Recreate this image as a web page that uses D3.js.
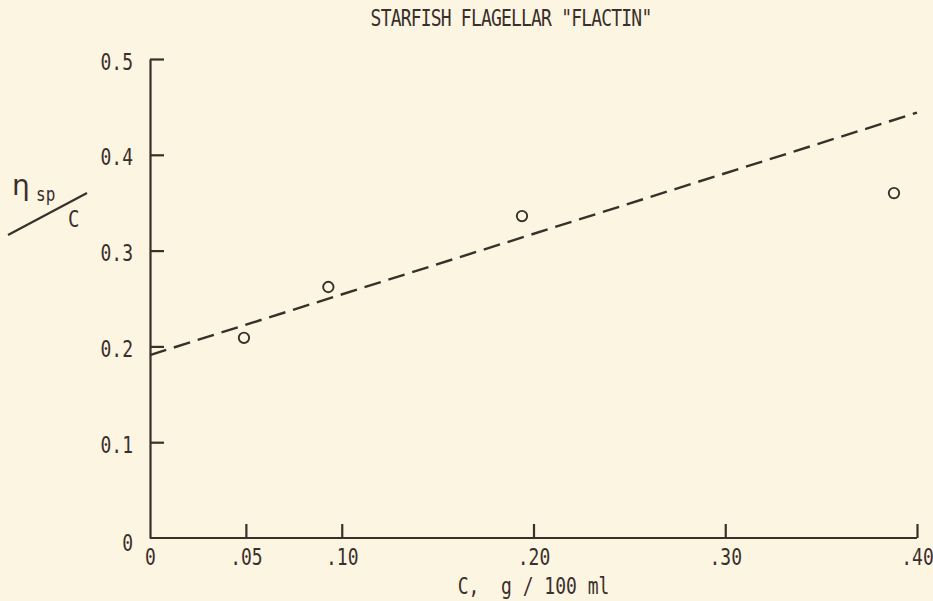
<!DOCTYPE html>
<html>
  <head>
    <meta charset="utf-8">
    <title>Starfish flagellar flactin</title>
    <style>
      body { margin: 0; background: #fcf5e2; }
      svg { display: block; }
      text {
        font-family: "DejaVu Sans Mono", monospace;
        fill: #3a2f2b;
      }
      .axis path, .axis line {
        fill: none;
        stroke: #3a2f2b;
        stroke-width: 2.2;
      }
      .axis text { font-size: 18px; }
      .fit {
        fill: none;
        stroke: #3a2f2b;
        stroke-width: 2.4;
        stroke-dasharray: 17, 8;
      }
      .pt circle {
        fill: none;
        stroke: #3a2f2b;
        stroke-width: 1.9;
      }
    </style>
    <script src="https://d3js.org/d3.v7.min.js"></script>
  </head>
  <body>
    <script>
      const width = 933, height = 601;
      const margin = {top: 59, right: 16, bottom: 63, left: 150};

      // concentration C (g / 100 ml) and reduced viscosity
      const concentration = [0.049, 0.093, 0.194, 0.388];
      const viscosity = [0.209, 0.262, 0.336, 0.360];

      // dashed extrapolation line
      const fitC = [0, 0.40];
      const fitV = [0.191, 0.444];

      const xTicks = [0, 0.05, 0.10, 0.20, 0.30, 0.40];
      const xTickLabels = ["0", ".05", ".10", ".20", ".30", ".40"];
      const yTicks = [0, 0.1, 0.2, 0.3, 0.4, 0.5];
      const yTickLabels = ["0", "0.1", "0.2", "0.3", "0.4", "0.5"];

      // typewriter lettering is tall and narrow
      const stretchY = 1.25;

      const x = d3.scaleLinear().domain([0, 0.40]).range([margin.left, width - margin.right]);
      const y = d3.scaleLinear().domain([0, 0.5]).range([height - margin.bottom, margin.top]);

      const svg = d3.select('body').append('svg')
        .attr('width', width)
        .attr('height', height);

      svg.append('rect')
        .attr('width', width).attr('height', height)
        .attr('fill', '#fcf5e2');

      function label(tx, ty, str, size) {
        return svg.append('text')
          .attr('transform', `translate(${tx},${ty}) scale(1,${stretchY})`)
          .style('font-size', size + 'px')
          .style('white-space', 'pre')
          .text(str);
      }

      // x axis, ticks point up into the plot
      const xAxis = svg.append('g')
        .attr('class', 'x axis')
        .attr('transform', `translate(0, ${y(0)})`)
        .call(d3.axisBottom(x)
          .tickValues(xTicks)
          .tickFormat((d, i) => xTickLabels[i])
          .tickSize(-14)
          .tickSizeOuter(0));
      xAxis.selectAll('.tick').filter(d => d === 0).select('line').remove();
      xAxis.selectAll('.tick text')
        .attr('y', null).attr('dy', null)
        .attr('transform', `translate(0,27) scale(1,${stretchY})`);
      xAxis.select('.domain').attr('d', `M${x(0)},0H${x(0.40)}`);

      // y axis, ticks point right
      const yAxis = svg.append('g')
        .attr('class', 'y axis')
        .attr('transform', `translate(${x(0)}, 0)`)
        .call(d3.axisLeft(y)
          .tickValues(yTicks)
          .tickFormat((d, i) => yTickLabels[i])
          .tickSize(-14)
          .tickSizeOuter(0));
      yAxis.selectAll('.tick').filter(d => d === 0).select('line').remove();
      yAxis.selectAll('.tick text')
        .attr('x', null).attr('dy', null)
        .attr('transform', d => `translate(-17,${d === 0 ? 12 : 10}) scale(1,${stretchY})`);

      // fitted line
      const line = d3.line().x(d => x(d[0])).y(d => y(d[1]));
      svg.append('path')
        .attr('class', 'fit')
        .attr('d', line(d3.zip(fitC, fitV)));

      // measured points
      svg.append('g').attr('class', 'pt')
        .selectAll('circle')
        .data(d3.zip(concentration, viscosity))
        .join('circle')
          .attr('cx', d => x(d[0]))
          .attr('cy', d => y(d[1]))
          .attr('r', 5.2);

      // title
      label(511, 26, 'STARFISH FLAGELLAR "FLACTIN"', 18)
        .attr('text-anchor', 'middle')
        .style('letter-spacing', '-0.8px');

      // x label
      label(x(0.20), 594, 'C,  g / 100 ml', 18)
        .attr('text-anchor', 'middle');

      // y label: eta_sp over C
      svg.append('text')
        .attr('x', 12).attr('y', 195)
        .style('font-family', 'DejaVu Sans')
        .style('font-size', '28px')
        .text('η');
      label(36, 201, 'sp', 16);
      label(68, 227, 'C', 19);
      svg.append('line')
        .attr('x1', 8).attr('y1', 235)
        .attr('x2', 87).attr('y2', 193)
        .attr('stroke', '#3a2f2b')
        .attr('stroke-width', 2.2);
    </script>
  </body>
</html>
